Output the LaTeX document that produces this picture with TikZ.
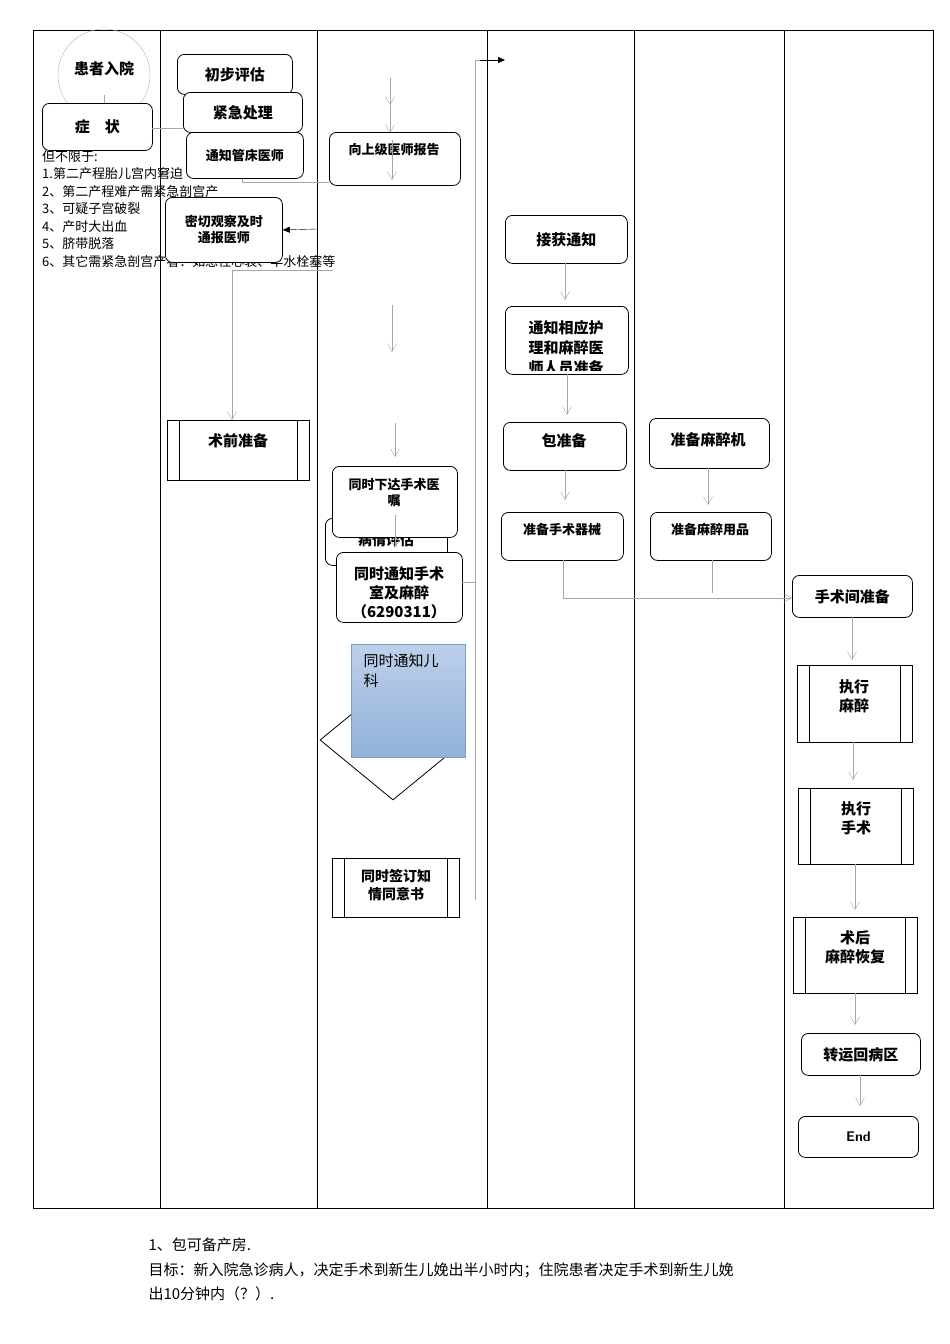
\documentclass[tikz,border=0pt]{standalone}
\usepackage{fontspec}
\setmainfont{Liberation Serif}
\newfontfamily\cjk{Noto Sans CJK SC}
\usetikzlibrary{shapes.geometric,arrows.meta}
\definecolor{bltop}{HTML}{BCD0EA}
\definecolor{blbot}{HTML}{93B2DA}
\definecolor{bldraw}{HTML}{7A9CC8}
\begin{document}
\begin{tikzpicture}[x=1pt,y=-1pt,
  rbox/.style={draw,thick,rounded corners=7pt,fill=white,align=center,font=\cjk\bfseries\fontsize{15}{17}\selectfont},
  pbox/.style={draw,thick,fill=white,align=center},
  ga/.style={draw=gray!70,-{Straight Barb[length=8pt,width=9pt]}},
  gl/.style={draw=gray!70}]
\useasboundingbox (0,0) rectangle (950,1344);
\draw (33,30) rectangle (933,1208);
\foreach \x in {160,317,487,634,784} \draw (\x,30) -- (\x,1208);
\newcommand{\pp}[5]{\node[pbox,minimum width=#3-#2,minimum height=#5-#4,anchor=north west] (#1) at (#2,#4) {};
  \draw (#2+12,#4) -- (#2+12,#5) (#3-12,#4) -- (#3-12,#5);}
% lane 1
\node[circle,draw=gray!60,minimum size=92] (c1) at (104,75) {};
\node[font=\cjk\bfseries\fontsize{15}{17}\selectfont] at (104,69) {患者入院};
\draw[gl] (104,95) -- (104,103);
\node[rbox,minimum width=110,minimum height=47,anchor=north west] (sz) at (42,103) {症\quad 状};
\node[anchor=north west,align=justify,text width=110pt,font=\cjk\fontsize{13}{17.5}\selectfont,inner sep=0] (tx) at (42,150) {但不限于:\\1.第二产程胎儿宫内窘迫\\2、第二产程难产需紧急剖宫产\\3、可疑子宫破裂\\4、产时大出血\\5、脐带脱落\\6、其它需紧急剖宫产者：如急性心衰、羊水栓塞等};
% lane 2
\draw[gl] (152,128) -- (183,128);
\draw[gl] (242,178) -- (242,182) -- (329,182);
\node[rbox,minimum width=115,minimum height=40,anchor=north west] (a1) at (177,54) {初步评估};
\node[rbox,minimum width=119,minimum height=40,anchor=north west] (a2) at (183,92) {紧急处理};
\node[rbox,minimum width=117,minimum height=46,anchor=north west,font=\cjk\bfseries\fontsize{13}{15}\selectfont] (a3) at (186,132) {通知管床医师};
\node[rbox,minimum width=117,minimum height=65,anchor=north west,font=\cjk\bfseries\fontsize{13}{16}\selectfont] (a4) at (165,197) {密切观察及时\\通报医师};
\pp{a5}{167}{309}{420}{480}
\node[font=\cjk\bfseries\fontsize{15}{17}\selectfont] at (238,441) {术前准备};
\draw[-{Triangle[length=7pt,width=6pt]}] (317,229) -- (a4.east);
\draw[gl] (332,270) -- (232,270);
\draw[ga] (232,270) -- (a5.north -| 232,0);
% lane 3
\draw[ga] (390,78) -- (390,105);
\draw[ga] (390,105) -- (390,133);
\node[rbox,minimum width=131,minimum height=53,anchor=north west,font=\cjk\bfseries\fontsize{13}{15}\selectfont] (b1) at (329,132) {};
\node[font=\cjk\bfseries\fontsize{13}{15}\selectfont] at (394,150) {向上级医师报告};
\draw[ga] (392,140) -- (392,180);
\draw[ga] (392,305) -- (392,352);
\draw[ga] (395,423) -- (395,457);
\node[rbox,minimum width=122,minimum height=47,anchor=north west] (b0) at (325,518) {};
\node[font=\cjk\bfseries\fontsize{14}{16}\selectfont] at (386,540) {病情评估};
\node[rbox,minimum width=125,minimum height=71,anchor=north west,font=\cjk\bfseries\fontsize{13}{16}\selectfont] (b2) at (332,466) {};
\node[font=\cjk\bfseries\fontsize{13}{16}\selectfont,align=center] at (394,493) {同时下达手术医\\嘱};
\draw[ga] (395,515) -- (395,548);
\node[rbox,minimum width=126,minimum height=70,anchor=north west] (b3) at (336,552) {};
\begin{scope}
\clip (336,552) rectangle (462,617);
\node[align=center,font=\cjk\bfseries\fontsize{15}{19}\selectfont] at (399,593) {同时通知手术\\室及麻醉\\（6290311）};
\end{scope}
\node[diamond,draw,thick,minimum width=146,minimum height=120,inner sep=0] (dm) at (393,740) {};
\node[draw=bldraw,thick,top color=bltop,bottom color=blbot,minimum width=114,minimum height=113,anchor=north west] (bl) at (351,644) {};
\node[anchor=north west,align=left,font=\cjk\fontsize{15}{20}\selectfont] at (360,650) {同时通知儿\\科};
\pp{b4}{332}{459}{858}{917}
\node[font=\cjk\bfseries\fontsize{14}{18}\selectfont,align=center] at (396,885) {同时签订知\\情同意书};
% long line to right
\draw[gl] (475,900) -- (475,60) -- (480,60);
\draw[-{Triangle[length=7pt,width=6pt]}] (480,60) -- (505,60);
\draw[gl] (462,582) -- (475,582);
% lane 4
\node[rbox,minimum width=122,minimum height=48,anchor=north west] (c1b) at (505,215) {接获通知};
\node[rbox,minimum width=123,minimum height=68,anchor=north west] (c2) at (505,306) {};
\begin{scope}
\clip (505,306) rectangle (628,370);
\node[align=center,font=\cjk\bfseries\fontsize{15}{20}\selectfont] at (566,348) {通知相应护\\理和麻醉医\\师人员准备};
\end{scope}
\node[rbox,minimum width=123,minimum height=48,anchor=north west] (c3) at (503,422) {};
\node[font=\cjk\bfseries\fontsize{15}{17}\selectfont] at (564,441) {包准备};
\node[rbox,minimum width=122,minimum height=48,anchor=north west] (c4) at (501,512) {};
\node[font=\cjk\bfseries\fontsize{13}{15}\selectfont] at (562,530) {准备手术器械};
\draw[ga] (565,263) -- (565,300);
\draw[ga] (567,374) -- (567,415);
\draw[ga] (565,470) -- (565,500);
% lane 5
\node[rbox,minimum width=120,minimum height=50,anchor=north west] (d1) at (649,418) {};
\node[font=\cjk\bfseries\fontsize{15}{17}\selectfont] at (708,440) {准备麻醉机};
\node[rbox,minimum width=121,minimum height=48,anchor=north west] (d2) at (650,512) {};
\node[font=\cjk\bfseries\fontsize{13}{15}\selectfont] at (710,530) {准备麻醉用品};
\draw[ga] (708,468) -- (708,505);
\draw[gl] (712,560) -- (712,593);
% lane 6
\node[rbox,minimum width=120,minimum height=42,anchor=north west] (e1) at (792,575) {手术间准备};
\draw[gl] (563,560) -- (563,598) -- (780,598);
\draw[ga] (780,598) -- (e1.west|-0,598);
\pp{e2}{797}{912}{665}{742}
\node[font=\cjk\bfseries\fontsize{15}{19}\selectfont,align=center] at (854,696) {执行\\麻醉};
\pp{e3}{798}{913}{788}{864}
\node[font=\cjk\bfseries\fontsize{15}{19}\selectfont,align=center] at (856,818) {执行\\手术};
\pp{e4}{793}{917}{917}{993}
\node[font=\cjk\bfseries\fontsize{15}{19}\selectfont,align=center] at (855,947) {术后\\麻醉恢复};
\node[rbox,minimum width=119,minimum height=42,anchor=north west] (e5) at (801,1033) {转运回病区};
\node[rbox,minimum width=120,minimum height=41,anchor=north west,font=\sffamily\bfseries\fontsize{14}{16}\selectfont] (e6) at (798,1116) {End};
\draw[ga] (852,617) -- (852,660);
\draw[ga] (853,742) -- (853,780);
\draw[ga] (855,864) -- (855,910);
\draw[ga] (855,993) -- (855,1025);
\draw[ga] (860,1075) -- (860,1106);
% bottom text
\node[anchor=west,font=\cjk\fontsize{15}{17}\selectfont] (f1) at (145,1245) {1、包可备产房.};
\node[anchor=west,font=\cjk\fontsize{15}{17}\selectfont] (f2) at (145,1270) {目标：新入院急诊病人，决定手术到新生儿娩出半小时内；住院患者决定手术到新生儿娩};
\node[anchor=west,font=\cjk\fontsize{15}{17}\selectfont] (f3) at (145,1294) {出10分钟内（？）.};
\end{tikzpicture}
\end{document}
